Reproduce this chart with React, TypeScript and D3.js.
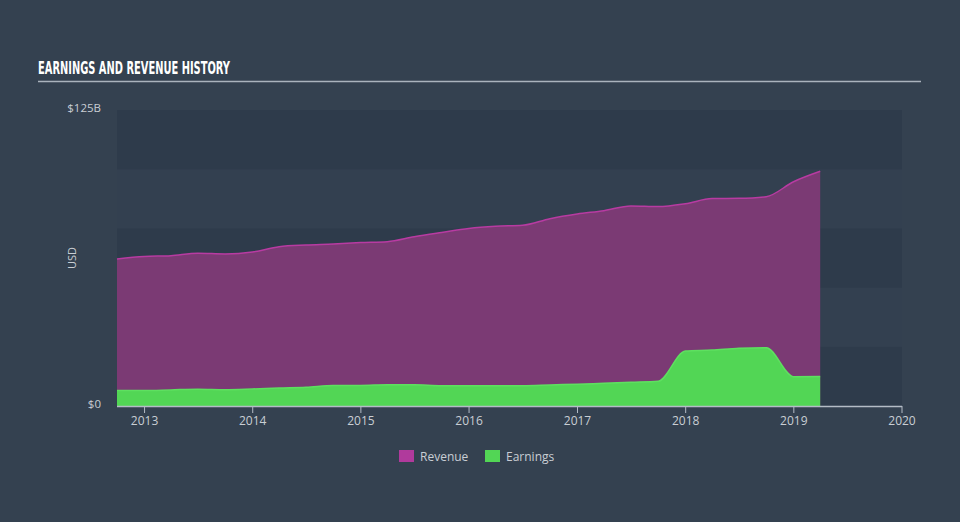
import React from "react";
import * as d3 from "d3";

const quarterDates: string[] = [
  "2012-09-30", "2012-12-31", "2013-03-31", "2013-06-30", "2013-09-30",
  "2013-12-31", "2014-03-31", "2014-06-30", "2014-09-30", "2014-12-31",
  "2015-03-31", "2015-06-30", "2015-09-30", "2015-12-31", "2016-03-31",
  "2016-06-30", "2016-09-30", "2016-12-31", "2017-03-31", "2017-06-30",
  "2017-09-30", "2017-12-31", "2018-03-31", "2018-06-30", "2018-09-30",
  "2018-12-31", "2019-03-31",
];

// Billions USD
const revenue: number[] = [
  62.1, 63.1, 63.5, 64.5, 64.2, 65.0, 67.3, 68.0, 68.4, 69.0,
  69.4, 71.5, 73.3, 75.0, 75.9, 76.3, 79.1, 81.1, 82.5, 84.5,
  84.2, 85.4, 87.6, 87.7, 88.4, 94.7, 99.1,
];

const earnings: number[] = [
  6.5, 6.5, 6.8, 7.1, 6.9, 7.2, 7.6, 7.9, 8.7, 8.7,
  9.0, 9.0, 8.6, 8.6, 8.6, 8.6, 8.9, 9.2, 9.6, 10.0,
  10.4, 23.2, 23.6, 24.4, 24.6, 12.4, 12.5,
];

const yTickValues: number[] = [0, 125];
const yTickLabels: string[] = ["$0", "$125B"];
const bandEdges: number[] = [0, 25, 50, 75, 100, 125];
const xTickYears: number[] = [2013, 2014, 2015, 2016, 2017, 2018, 2019, 2020];

const seriesNames: string[] = ["Revenue", "Earnings"];
const seriesFill: string[] = ["#7b3a74", "#52d655"];
const seriesLine: string[] = ["#b83ba2", "#5ee060"];
const legendColors: string[] = ["#b03a9c", "#52d655"];

export default function App() {
  const W = 960, H = 522;
  const left = 117, right = 902, top = 110, bottom = 406;
  const parse = d3.timeParse("%Y-%m-%d");
  const dates = quarterDates.map((d) => parse(d) as Date);

  const x = d3.scaleTime()
    .domain([dates[0], new Date(2020, 0, 1)])
    .range([left, right]);
  const y = d3.scaleLinear().domain([0, 125]).range([bottom, top]);

  const curve = d3.curveMonotoneX;
  const area = d3.area<number>()
    .x((_, i) => x(dates[i]))
    .y0(y(0))
    .y1((d) => y(d))
    .curve(curve);
  const line = d3.line<number>()
    .x((_, i) => x(dates[i]))
    .y((d) => y(d))
    .curve(curve);

  const series = [revenue, earnings];
  const labelColor = "#c9ced4";
  const font = "'Open Sans', sans-serif";

  return (
    <svg width={W} height={H} style={{ display: "block", position: "absolute", left: 0, top: 0 }}>
      <rect x={0} y={0} width={W} height={H} fill="#344150" />
      {/* title */}
      <text x={38} y={74} fill="#ffffff" fontFamily="'Liberation Sans Narrow', 'DejaVu Sans Condensed', sans-serif" fontWeight="bold" fontSize={17} textLength={192} lengthAdjust="spacingAndGlyphs">
        EARNINGS AND REVENUE HISTORY
      </text>
      <line x1={38} x2={921} y1={81.5} y2={81.5} stroke="#aab3bd" strokeWidth={1.5} />

      {/* bands */}
      {bandEdges.slice(0, -1).map((b, i) => (
        <rect key={i} x={left} width={right - left}
          y={y(bandEdges[i + 1])} height={y(b) - y(bandEdges[i + 1])}
          fill={i % 2 === 0 ? "#2e3b4b" : "#334050"} />
      ))}

      {/* areas */}
      {series.map((s, i) => (
        <g key={i}>
          <path d={area(s) || ""} fill={seriesFill[i]} />
          <path d={line(s) || ""} fill="none" stroke={seriesLine[i]} strokeWidth={1.5} />
        </g>
      ))}

      {/* x axis */}
      <line x1={left} x2={right} y1={bottom + 0.5} y2={bottom + 0.5} stroke="#b4bcc6" strokeWidth={1.5} />
      {xTickYears.map((yr) => {
        const xx = x(new Date(yr, 0, 1));
        return (
          <g key={yr}>
            <line x1={xx} x2={xx} y1={bottom} y2={bottom + 7} stroke="#b4bcc6" strokeWidth={1} />
            <text x={xx} y={425} textAnchor="middle" fill={labelColor} fontFamily={font} fontSize={12}>
              {yr}
            </text>
          </g>
        );
      })}

      {/* y labels */}
      {yTickValues.map((v, i) => (
        <text key={v} x={101} y={y(v) + 2} textAnchor="end" fill={labelColor} fontFamily={font} fontSize={11.5}>
          {yTickLabels[i]}
        </text>
      ))}
      <text transform={`translate(76,258) rotate(-90)`} textAnchor="middle" fill={labelColor} fontFamily={font} fontSize={11}>
        USD
      </text>

      {/* legend */}
      {seriesNames.map((n, i) => {
        const lx = 399 + i * 86;
        return (
          <g key={n}>
            <rect x={lx} y={450} width={15} height={12} fill={legendColors[i]} />
            <text x={lx + 21} y={460.5} fill={labelColor} fontFamily={font} fontSize={12}>{n}</text>
          </g>
        );
      })}
    </svg>
  );
}
